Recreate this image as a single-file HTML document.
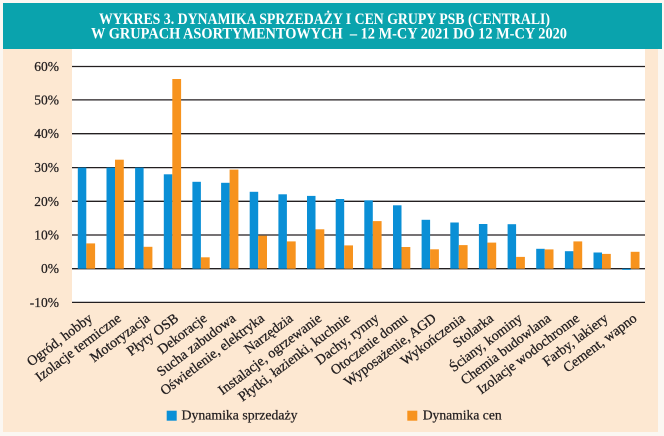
<!DOCTYPE html>
<html><head><meta charset="utf-8"><style>
html,body{margin:0;padding:0;background:#fbf7f2;}
svg{display:block;}
</style></head><body>
<svg width="664" height="436" viewBox="0 0 664 436" xmlns="http://www.w3.org/2000/svg" font-family="'Liberation Serif', serif">
<rect x="0" y="0" width="664" height="436" fill="#fbf7f2"/>
<rect x="3" y="48" width="655" height="384" fill="#fde8d2"/>
<rect x="3" y="3" width="659" height="46" fill="#0aa3ad"/>
<text x="99" y="24" fill="#fff" font-weight="bold" font-size="16" textLength="451" lengthAdjust="spacingAndGlyphs">WYKRES 3. DYNAMIKA SPRZEDAŻY I CEN GRUPY PSB (CENTRALI)</text>
<text x="91" y="38.5" fill="#fff" font-weight="bold" font-size="16" textLength="476" lengthAdjust="spacingAndGlyphs" xml:space="preserve">W GRUPACH ASORTYMENTOWYCH  – 12 M-CY 2021 DO 12 M-CY 2020</text>
<rect x="72" y="49" width="573" height="253" fill="#ffffff"/>
<g stroke="#231f20" stroke-width="1.3">
<line x1="72" x2="645" y1="66.5" y2="66.5"/>
<line x1="72" x2="645" y1="99.9" y2="99.9"/>
<line x1="72" x2="645" y1="133.7" y2="133.7"/>
<line x1="72" x2="645" y1="167.6" y2="167.6"/>
<line x1="72" x2="645" y1="201.3" y2="201.3"/>
<line x1="72" x2="645" y1="235" y2="235"/>
<line x1="72" x2="645" y1="268.7" y2="268.7"/>
<line x1="72" x2="645" y1="302.4" y2="302.4"/>
</g>
<g fill="#231f20" stroke="#231f20" stroke-width="0.25" font-size="13.5" text-anchor="end">
<text x="59" y="71">60%</text>
<text x="59" y="104.4">50%</text>
<text x="59" y="138.2">40%</text>
<text x="59" y="172.1">30%</text>
<text x="59" y="205.8">20%</text>
<text x="59" y="239.5">10%</text>
<text x="59" y="273.2">0%</text>
<text x="59" y="306.9">-10%</text>
</g>
<g fill="#0a8fd6">
<rect x="77.8" y="167.6" width="8.5" height="101.1"/>
<rect x="106.5" y="167.6" width="8.5" height="101.1"/>
<rect x="135.1" y="167.6" width="8.5" height="101.1"/>
<rect x="163.8" y="174.3" width="8.5" height="94.4"/>
<rect x="192.4" y="181.8" width="8.5" height="86.9"/>
<rect x="221.1" y="182.8" width="8.5" height="85.9"/>
<rect x="249.7" y="191.8" width="8.5" height="76.9"/>
<rect x="278.4" y="194.3" width="8.5" height="74.4"/>
<rect x="307.0" y="195.9" width="8.5" height="72.8"/>
<rect x="335.7" y="199.0" width="8.5" height="69.7"/>
<rect x="364.3" y="200.3" width="8.5" height="68.4"/>
<rect x="393.0" y="205.3" width="8.5" height="63.4"/>
<rect x="421.6" y="219.8" width="8.5" height="48.9"/>
<rect x="450.3" y="222.5" width="8.5" height="46.2"/>
<rect x="478.9" y="224.0" width="8.5" height="44.7"/>
<rect x="507.6" y="224.2" width="8.5" height="44.5"/>
<rect x="536.2" y="248.8" width="8.5" height="19.9"/>
<rect x="564.9" y="251.2" width="8.5" height="17.5"/>
<rect x="593.5" y="252.5" width="8.5" height="16.2"/>
<rect x="622.2" y="268.7" width="8.5" height="1.2"/>
</g>
<g fill="#f7931e">
<rect x="86.3" y="243.4" width="8.8" height="25.3"/>
<rect x="115.0" y="159.7" width="8.8" height="109.0"/>
<rect x="143.6" y="246.8" width="8.8" height="21.9"/>
<rect x="172.3" y="79.0" width="8.8" height="189.7"/>
<rect x="200.9" y="257.3" width="8.8" height="11.4"/>
<rect x="229.6" y="169.6" width="8.8" height="99.1"/>
<rect x="258.2" y="235.7" width="8.8" height="33.0"/>
<rect x="286.9" y="241.4" width="8.8" height="27.3"/>
<rect x="315.5" y="229.3" width="8.8" height="39.4"/>
<rect x="344.2" y="245.4" width="8.8" height="23.3"/>
<rect x="372.8" y="221.1" width="8.8" height="47.6"/>
<rect x="401.5" y="247.0" width="8.8" height="21.7"/>
<rect x="430.1" y="249.3" width="8.8" height="19.4"/>
<rect x="458.8" y="245.1" width="8.8" height="23.6"/>
<rect x="487.4" y="242.6" width="8.8" height="26.1"/>
<rect x="516.1" y="256.9" width="8.8" height="11.8"/>
<rect x="544.7" y="249.4" width="8.8" height="19.3"/>
<rect x="573.4" y="241.4" width="8.8" height="27.3"/>
<rect x="602.0" y="253.9" width="8.8" height="14.8"/>
<rect x="630.7" y="251.8" width="8.8" height="16.9"/>
</g>
<g fill="#231f20" stroke="#231f20" stroke-width="0.3" font-size="14" text-anchor="end">
<text transform="translate(93.3,320) rotate(-37)">Ogród, hobby</text>
<text transform="translate(122.0,320) rotate(-37)">Izolacje termiczne</text>
<text transform="translate(150.6,320) rotate(-37)">Motoryzacja</text>
<text transform="translate(179.3,320) rotate(-37)">Płyty OSB</text>
<text transform="translate(207.9,320) rotate(-37)">Dekoracje</text>
<text transform="translate(236.6,320) rotate(-37)">Sucha zabudowa</text>
<text transform="translate(265.2,320) rotate(-37)">Oświetlenie, elektryka</text>
<text transform="translate(293.9,320) rotate(-37)">Narzędzia</text>
<text transform="translate(322.5,320) rotate(-37)">Instalacje, ogrzewanie</text>
<text transform="translate(351.2,320) rotate(-37)">Płytki, łazienki, kuchnie</text>
<text transform="translate(379.8,320) rotate(-37)">Dachy, rynny</text>
<text transform="translate(408.5,320) rotate(-37)">Otoczenie domu</text>
<text transform="translate(437.1,320) rotate(-37)">Wyposażenie, AGD</text>
<text transform="translate(465.8,320) rotate(-37)">Wykończenia</text>
<text transform="translate(494.4,320) rotate(-37)">Stolarka</text>
<text transform="translate(523.1,320) rotate(-37)">Ściany, kominy</text>
<text transform="translate(551.7,320) rotate(-37)">Chemia budowlana</text>
<text transform="translate(580.4,320) rotate(-37)">Izolacje wodochronne</text>
<text transform="translate(609.0,320) rotate(-37)">Farby, lakiery</text>
<text transform="translate(637.7,320) rotate(-37)">Cement, wapno</text>
</g>
<rect x="166.7" y="410.7" width="10" height="10" fill="#0a8fd6"/>
<text x="181.5" y="419.5" font-size="14" fill="#231f20" stroke="#231f20" stroke-width="0.25" textLength="116" lengthAdjust="spacingAndGlyphs">Dynamika sprzedaży</text>
<rect x="407.3" y="410.7" width="10" height="10" fill="#f7931e"/>
<text x="422.7" y="419.5" font-size="14" fill="#231f20" stroke="#231f20" stroke-width="0.25" textLength="79" lengthAdjust="spacingAndGlyphs">Dynamika cen</text>
</svg>
</body></html>
